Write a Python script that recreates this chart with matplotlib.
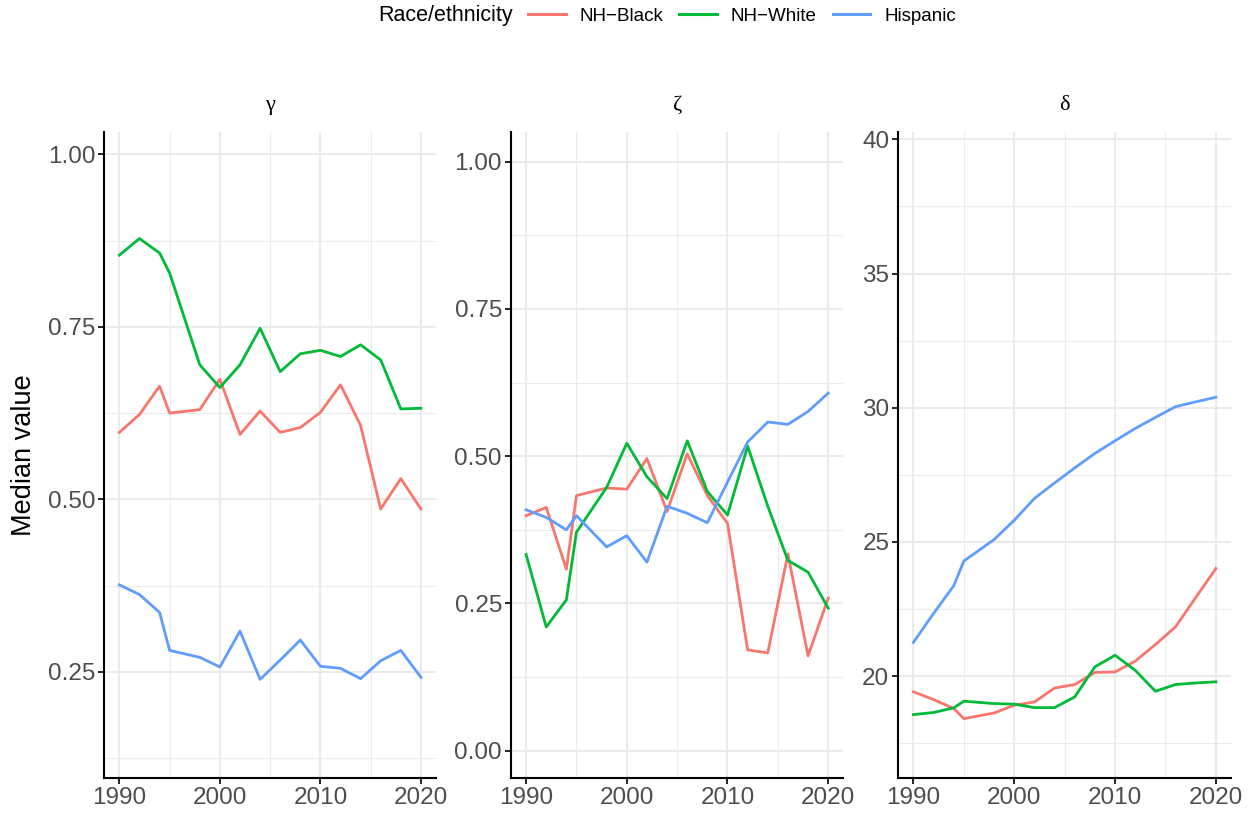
import numpy as np
import matplotlib.pyplot as plt
from matplotlib.ticker import FixedLocator, FormatStrFormatter
from matplotlib.lines import Line2D

plt.rcParams['font.family'] = ['Liberation Sans', 'DejaVu Sans']

years = [1990, 1992, 1994, 1995, 1998, 2000, 2002, 2004, 2006, 2008,
         2010, 2012, 2014, 2016, 2018, 2020]
groups = ['NH\u2212Black', 'NH\u2212White', 'Hispanic']
colors = ['#F8766D', '#00BA38', '#619CFF']
panels = ['\u03b3', '\u03b6', '\u03b4']

# gamma
gamma_black = [0.597, 0.623, 0.664, 0.625, 0.630, 0.674, 0.594, 0.628, 0.597, 0.604,
               0.626, 0.666, 0.607, 0.486, 0.530, 0.486]
gamma_white = [0.854, 0.878, 0.857, 0.828, 0.695, 0.662, 0.695, 0.748, 0.685, 0.711,
               0.716, 0.707, 0.724, 0.702, 0.631, 0.632]
gamma_hisp = [0.376, 0.362, 0.336, 0.281, 0.271, 0.257, 0.309, 0.239, 0.267, 0.296,
              0.258, 0.255, 0.240, 0.266, 0.281, 0.242]
# zeta
zeta_black = [0.399, 0.413, 0.308, 0.433, 0.446, 0.444, 0.496, 0.406, 0.504, 0.433,
              0.386, 0.171, 0.166, 0.334, 0.161, 0.259]
zeta_white = [0.333, 0.210, 0.256, 0.371, 0.447, 0.522, 0.465, 0.428, 0.526, 0.440,
              0.400, 0.517, 0.415, 0.323, 0.303, 0.242]
zeta_hisp = [0.409, 0.396, 0.375, 0.399, 0.346, 0.365, 0.320, 0.415, 0.403, 0.387,
             0.456, 0.524, 0.558, 0.554, 0.576, 0.607]
# delta
delta_black = [19.42, 19.13, 18.80, 18.42, 18.63, 18.92, 19.04, 19.56, 19.69, 20.14,
               20.16, 20.56, 21.18, 21.84, 22.93, 24.01]
delta_white = [18.57, 18.65, 18.82, 19.07, 18.98, 18.96, 18.83, 18.83, 19.23, 20.35,
               20.78, 20.22, 19.44, 19.69, 19.75, 19.79]
delta_hisp = [21.26, 22.34, 23.37, 24.29, 25.09, 25.81, 26.62, 27.20, 27.76, 28.30,
              28.77, 29.23, 29.64, 30.04, 30.22, 30.39]

series = [
    [gamma_black, gamma_white, gamma_hisp],
    [zeta_black, zeta_white, zeta_hisp],
    [delta_black, delta_white, delta_hisp],
]
ylims = [(0.0965, 1.032), (-0.046, 1.05), (16.22, 40.26)]
yticks = [[0.25, 0.50, 0.75, 1.00], [0.00, 0.25, 0.50, 0.75, 1.00], [20, 25, 30, 35, 40]]
yminor = [[0.125, 0.375, 0.625, 0.875], [0.125, 0.375, 0.625, 0.875],
          [17.5, 22.5, 27.5, 32.5, 37.5]]
yfmt = ['%.2f', '%.2f', '%d']

W, H = 1252, 814
fig = plt.figure(figsize=(W / 100, H / 100), dpi=100)
lefts = [104.3, 511, 898.3]
rights = [436, 843.3, 1231]
top_px, bot_px = 132.3, 777.7

grid_col = '#EBEBEB'
for i in range(3):
    ax = fig.add_axes([lefts[i] / W, 1 - bot_px / H,
                       (rights[i] - lefts[i]) / W, (bot_px - top_px) / H])
    for vals, c in zip(series[i], colors):
        ax.plot(years, vals, color=c, lw=2.0, solid_joinstyle='round', zorder=3)
    ax.set_xlim(1988.5, 2021.5)
    ax.set_ylim(*ylims[i])
    ax.xaxis.set_major_locator(FixedLocator([1990, 2000, 2010, 2020]))
    ax.xaxis.set_minor_locator(FixedLocator([1995, 2005, 2015]))
    ax.yaxis.set_major_locator(FixedLocator(yticks[i]))
    ax.yaxis.set_minor_locator(FixedLocator(yminor[i]))
    ax.yaxis.set_major_formatter(FormatStrFormatter(yfmt[i]))
    ax.grid(which='major', color=grid_col, lw=1.5, zorder=0)
    ax.grid(which='minor', color=grid_col, lw=0.8, zorder=0)
    ax.set_axisbelow(True)
    for s in ['top', 'right']:
        ax.spines[s].set_visible(False)
    for s in ['left', 'bottom']:
        ax.spines[s].set_linewidth(1.5)
        ax.spines[s].set_color('black')
    ax.tick_params(which='major', length=4, width=1.2, color='black',
                   labelsize=17.5, labelcolor='#4D4D4D', pad=2.5)
    ax.tick_params(which='minor', length=0)
    ax.set_title(panels[i], fontsize=16, family='Liberation Serif', pad=16)
    if i == 0:
        ax.set_ylabel('Median value', fontsize=19.5, labelpad=8)

# legend
fig.text(378 / W, 1 - 16 / H, 'Race/ethnicity', fontsize=15.5, va='center', ha='left')
handles = [Line2D([], [], color=c, lw=2.2) for c in colors]
fig.legend(handles, groups, loc='center left', bbox_to_anchor=(528 / W, 1 - 16 / H),
           ncol=3, frameon=False, fontsize=13.5, handlelength=2.0, handletextpad=0.75,
           columnspacing=0.85, borderpad=0, borderaxespad=0)

fig.savefig('out.png', dpi=100)
